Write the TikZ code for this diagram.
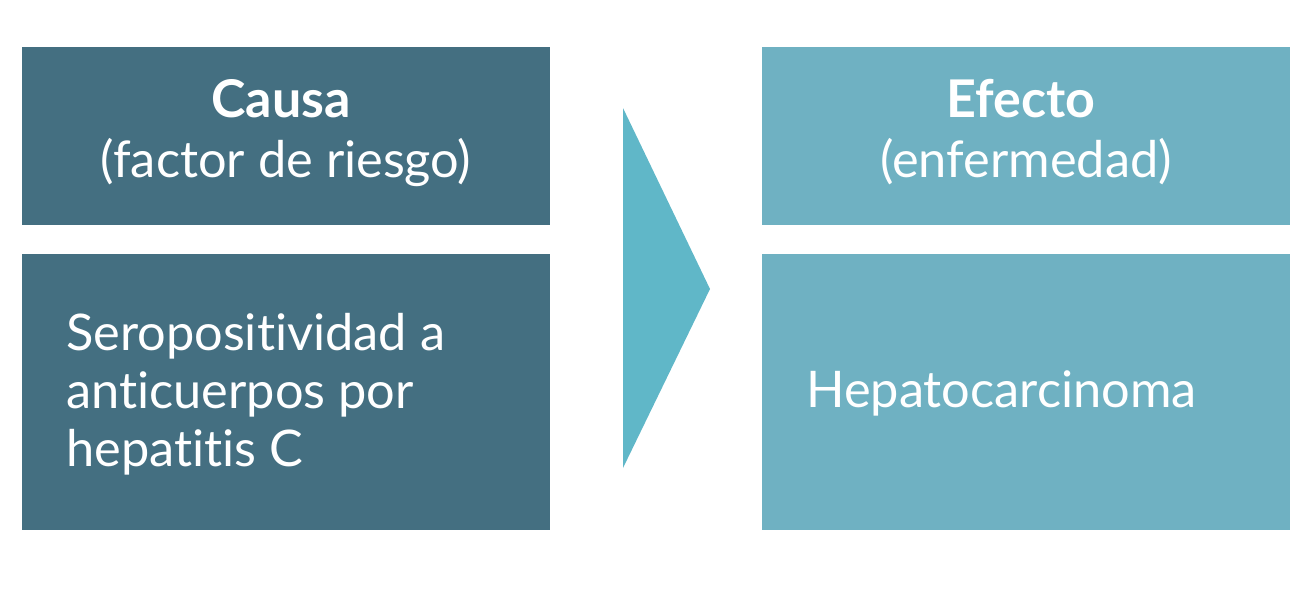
\documentclass[tikz,border=0pt]{standalone}
\usepackage{fontspec}
\setmainfont{Lato}[Ligatures=NoCommon]
\definecolor{darkbox}{HTML}{446F81}
\definecolor{lightbox}{HTML}{6FB1C2}
\definecolor{arrowc}{HTML}{60B7C8}
\begin{document}
\begin{tikzpicture}[x=1pt,y=-1pt,
  txt/.style={text=white,font=\fontsize{50.5}{58}\selectfont,inner sep=0pt},
  bold/.style={text=white,font=\fontsize{52}{58}\selectfont\bfseries,inner sep=0pt}]
\useasboundingbox (0,0) rectangle (1310,600);
\fill[darkbox] (22,47) rectangle (550,225);
\fill[darkbox] (22,254) rectangle (550,530);
\fill[lightbox] (762,47) rectangle (1290,225);
\fill[lightbox] (762,254) rectangle (1290,530);
\fill[arrowc] (623,108) -- (710,289) -- (623,468) -- cycle;
\node[bold,anchor=base] (causa) at (281,117) {Causa};
\node[txt,anchor=base] (factor) at (286,177) {(factor de riesgo)};
\node[bold,anchor=base] (efecto) at (1021,117) {Efecto};
\node[txt,anchor=base] (enf) at (1026,177) {(enfermedad)};
\node[txt,anchor=base west] (sero1) at (66,350) {Seropositividad a};
\node[txt,anchor=base west] (sero2) at (66,408) {anticuerpos por};
\node[txt,anchor=base west] (sero3) at (66,466) {hepatitis C};
\node[txt,anchor=base west] (hepa) at (806,407) {Hepatocarcinoma};
\end{tikzpicture}
\end{document}
